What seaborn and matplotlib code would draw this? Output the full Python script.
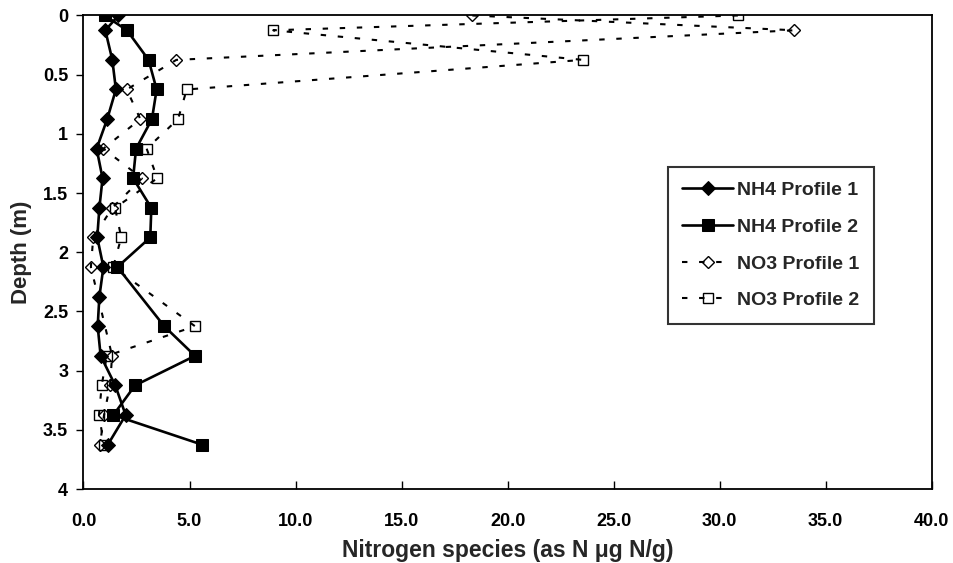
import numpy as np
import pandas as pd
import matplotlib
matplotlib.use("Agg")
import matplotlib.pyplot as plt
import seaborn as sns

# Sampling depths (m)
depth = [0.0, 0.125, 0.375, 0.625, 0.875, 1.125, 1.375, 1.625, 1.875,
         2.125, 2.375, 2.625, 2.875, 3.125, 3.375, 3.625]

# Nitrogen species concentrations (as N, ug N/g); NaN = not measured
nh4_profile1 = [1.65, 1.03, 1.36, 1.53, 1.12, 0.62, 0.90, 0.75, 0.65,
                0.94, 0.75, 0.67, 0.81, 1.50, 1.99, 1.15]
nh4_profile2 = [1.01, 2.05, 3.07, 3.45, 3.23, 2.48, 2.34, 3.20, 3.15,
                1.60, np.nan, 3.81, 5.26, 2.43, 1.41, 5.59]
no3_profile1 = [18.34, 33.53, 4.38, 2.04, 2.68, 0.94, 2.76, 1.36, 0.46,
                0.35, np.nan, np.nan, 1.35, 1.25, 0.97, 0.78]
no3_profile2 = [30.86, 8.95, 23.55, 4.87, 4.46, 2.98, 3.48, 1.49, 1.78,
                1.40, np.nan, 5.26, 1.10, 0.86, 0.73, 0.97]

series_names = ["NH4 Profile 1", "NH4 Profile 2", "NO3 Profile 1", "NO3 Profile 2"]
x_ticks = [0, 5, 10, 15, 20, 25, 30, 35, 40]
y_ticks = [0, 0.5, 1, 1.5, 2, 2.5, 3, 3.5, 4]

df = pd.DataFrame({
    "depth": depth * 4,
    "conc": nh4_profile1 + nh4_profile2 + no3_profile1 + no3_profile2,
    "series": sum([[n] * len(depth) for n in series_names], []),
}).dropna()

sns.set_theme(style="white")
plt.rcParams["font.family"] = ["Liberation Sans", "DejaVu Sans"]
plt.rcParams["font.weight"] = "bold"

fig = plt.figure(figsize=(9.54, 5.63), dpi=100)
ax = fig.add_axes([0.0875, 0.1314, 0.8891, 0.8411])

dash = (0, (2.6, 5.6))
styles = {
    "NH4 Profile 1": dict(marker="D", markersize=7, mfc="black", mec="black",
                          linestyle="-", linewidth=1.9),
    "NH4 Profile 2": dict(marker="s", markersize=9, mfc="black", mec="black",
                          linestyle="-", linewidth=1.9),
    "NO3 Profile 1": dict(marker="D", markersize=6, mfc="none", mec="black",
                          mew=1.0, linestyle=dash, linewidth=1.5),
    "NO3 Profile 2": dict(marker="s", markersize=7.5, mfc="none", mec="black",
                          mew=1.0, linestyle=dash, linewidth=1.5),
}

for name in series_names:
    sub = df[df["series"] == name]
    sns.lineplot(data=sub, x="conc", y="depth", sort=False, estimator=None,
                 color="black", ax=ax, label=name, **styles[name])

ax.set_xlim(0, 40)
ax.set_ylim(4, 0)
ax.set_xticks(x_ticks)
ax.set_xticklabels([f"{t:.1f}" for t in x_ticks])
ax.set_yticks(y_ticks)
ax.set_yticklabels([f"{t:g}" for t in y_ticks])

ax.tick_params(axis="x", direction="in", length=6, width=1, pad=17,
               labelsize=13, bottom=True, top=False, colors="black")
ax.tick_params(axis="y", direction="out", length=5, width=1, pad=6,
               labelsize=13, left=True, right=False, colors="black")
for lbl in ax.get_xticklabels() + ax.get_yticklabels():
    lbl.set_fontweight("bold")

for side in ["top", "bottom", "left", "right"]:
    ax.spines[side].set_visible(True)
    ax.spines[side].set_color("black")
    ax.spines[side].set_linewidth(1.3)

ax.set_xlabel("Nitrogen species (as N \u03bcg N/g)", fontsize=16.5,
              fontweight="bold", labelpad=7)
ax.set_ylabel("Depth (m)", fontsize=16, fontweight="bold", labelpad=8)
ax.grid(False)

leg = ax.legend(loc="upper left", bbox_to_anchor=(0.689, 0.68),
                borderaxespad=0, frameon=True, fancybox=False,
                handlelength=2.6, handletextpad=0.2, labelspacing=0.98,
                borderpad=0.75, prop={"weight": "bold", "size": 14})
leg.get_frame().set_edgecolor("black")
leg.get_frame().set_linewidth(1.5)
leg.get_frame().set_facecolor("white")

fig.savefig("out.png", dpi=100, facecolor="white")
